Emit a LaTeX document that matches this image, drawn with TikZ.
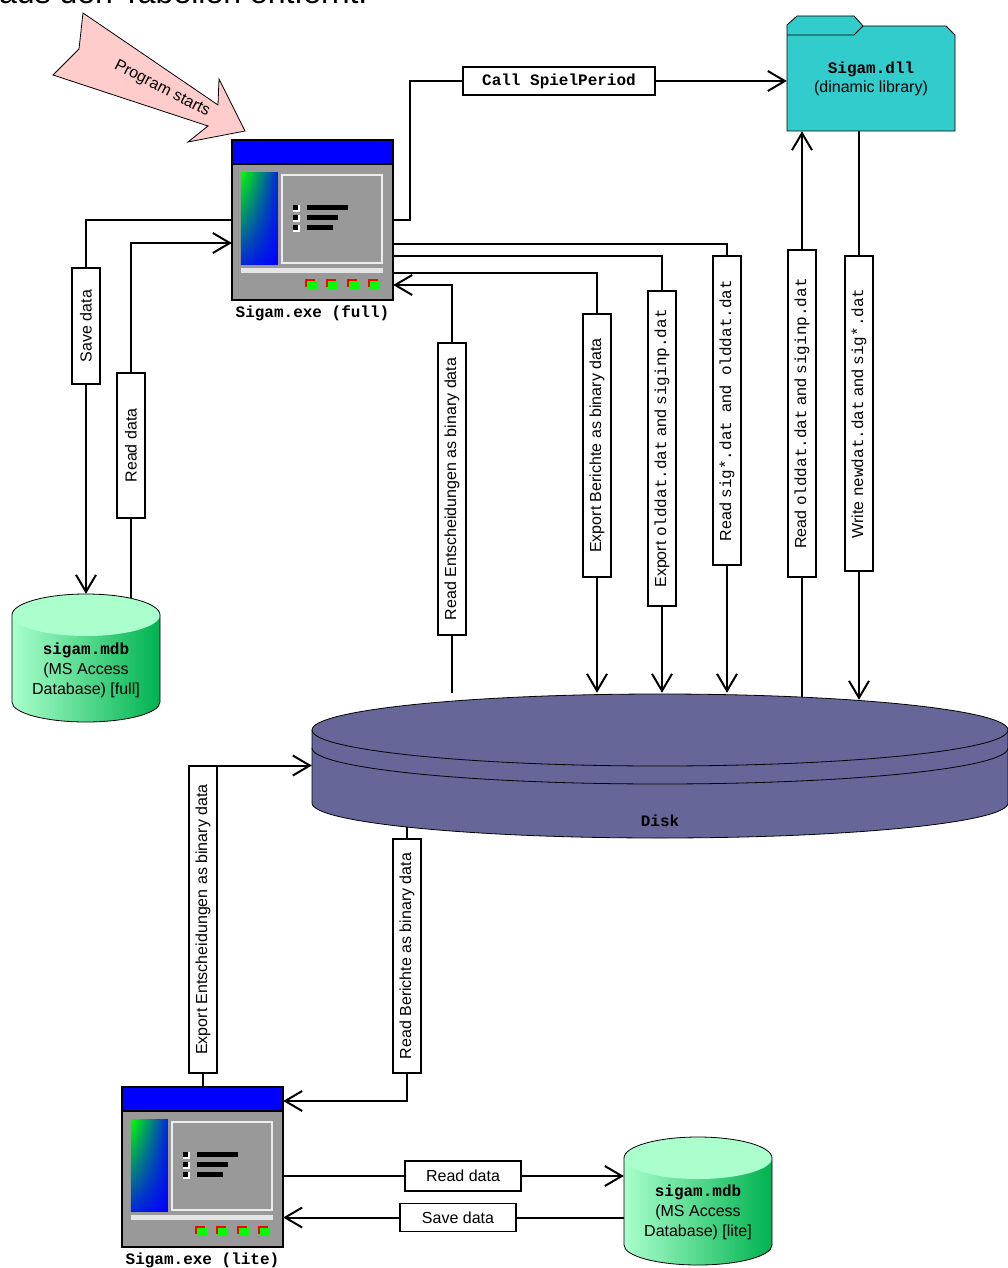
\documentclass[tikz,border=0pt]{standalone}
\usepackage{fontspec}
\setmainfont{Liberation Sans}
\setmonofont{Liberation Mono}
\usetikzlibrary{arrows.meta,positioning,shadings}
\definecolor{winblue}{RGB}{0,0,255}
\definecolor{wingray}{RGB}{153,153,153}
\definecolor{dllcyan}{RGB}{51,204,204}
\definecolor{diskblue}{RGB}{102,102,153}
\definecolor{mintlight}{RGB}{170,255,204}
\definecolor{mintdark}{RGB}{0,178,80}
\definecolor{startpink}{RGB}{255,204,204}
\tikzset{
    txt/.style={font=\fontsize{16}{19}\selectfont},
    monob/.style={font=\fontsize{16}{19}\selectfont\ttfamily\bfseries},
    lblbox/.style={txt, draw, fill=white, line width=1.2pt, inner sep=0pt, minimum height=28pt},
    vlbl/.style={lblbox, rotate=90},
    conn/.style={line width=2pt},
    conna/.style={conn, -{Straight Barb[length=17pt,width=20pt]}},
    winarea/.style={minimum width=161pt, minimum height=160pt, inner sep=0pt},
    dbarea/.style={minimum width=148pt, minimum height=128pt, inner sep=0pt},
    sigamwin/.pic={
        \draw[line width=2pt, fill=wingray] (0,0) rectangle (161,160);
        \draw[line width=2pt, fill=winblue] (0,0) rectangle (161,24);
        \shade[upper left=green, upper right=blue!85!green, lower left=blue!85!green, lower right=blue] (9,33) rectangle (46,125);
        \draw[line width=1.5pt, draw=white!85!gray] (50,35) rectangle (150,123);
        \foreach \y/\l in {68/41,78/31,88/26} {
            \fill[white] (61,\y-3) rectangle (68,\y+4);
            \fill[black] (61,\y-3) rectangle (66,\y+2);
            \fill[black] (75,\y-2.5) rectangle (75+\l,\y+2.5);
        }
        \fill[white!80!gray] (9,128) rectangle (151,133);
        \foreach \x in {73,94,115,136} {
            \fill[red] (\x,139) rectangle (\x+10,147);
            \fill[green] (\x+2,141) rectangle (\x+12,149);
        }
    },
    dbcyl/.pic={
        \shade[left color=mintlight, right color=mintdark] (-74,-43) -- (-74,44) arc[start angle=180, end angle=360, x radius=74pt, y radius=20pt] -- (74,-43) arc[start angle=0, end angle=180, x radius=74pt, y radius=21pt] -- cycle;
        \fill[mintlight] (0,-43) ellipse [x radius=74pt, y radius=21pt];
        \draw[line width=0.8pt] (-74,-43) -- (-74,44) arc[start angle=180, end angle=360, x radius=74pt, y radius=20pt] -- (74,-43) arc[start angle=0, end angle=180, x radius=74pt, y radius=21pt] -- cycle;
    }
}
\begin{document}
\begin{tikzpicture}[x=1pt,y=-1pt]
\useasboundingbox (0,0) rectangle (1007,1268);
% what is left of the text above
\node[anchor=base west, inner sep=0pt, font=\fontsize{32}{38}\selectfont] (headtxt) at (-1,4) {aus den Tabellen entfernt.};

% start arrow
\draw[fill=startpink, line width=0.8pt] (83,13) -- (79,49) -- (53,75) -- (208,126) -- (188,142) -- (245,131) -- (219,79) -- (218,105) -- cycle;
\node[txt, rotate=-27] (startlbl) at (162,89) {Program starts};

% the two programs
\node[winarea] (fullexe) at (312.5,220) {};
\pic at (fullexe.north west) {sigamwin};
\node[monob, below=2pt of fullexe] (fulllbl) {Sigam.exe (full)};
\node[winarea] (liteexe) at (202.5,1167) {};
\pic at (liteexe.north west) {sigamwin};
\node[monob, below=2pt of liteexe] (litelbl) {Sigam.exe (lite)};

% library
\draw[fill=dllcyan, line width=0.8pt] (787,25) -- (797,16) -- (854,16) -- (863,26) -- (946,26) -- (955,35) -- (955,131) -- (787,131) -- cycle;
\draw[line width=0.8pt] (787,35) -- (854,35) -- (863,26);
\node[txt, align=center, minimum width=168pt, minimum height=105pt] (dll) at (871,78.5) {{\ttfamily\bfseries Sigam.dll}\\(dinamic library)};

% databases
\node[dbarea] (mdbfull) at (86,658) {};
\pic at (mdbfull) {dbcyl};
\node[font=\fontsize{16}{20}\selectfont, align=center] (mdbfulltxt) at (86,670) {{\ttfamily\bfseries sigam.mdb}\\(MS Access\\Database) [full]};
\node[dbarea] (mdblite) at (698,1201) {};
\pic at (mdblite) {dbcyl};
\node[font=\fontsize{16}{20}\selectfont, align=center] (mdblitetxt) at (698,1212) {{\ttfamily\bfseries sigam.mdb}\\(MS Access\\Database) [lite]};

% disk
\draw[fill=diskblue, line width=0.8pt] (312,730) -- (312,803) arc[start angle=180, end angle=360, x radius=348pt, y radius=35pt] -- (1008,730) arc[start angle=0, end angle=180, x radius=348pt, y radius=36pt] -- cycle;
\draw[line width=0.8pt] (312,730) arc[start angle=180, end angle=360, x radius=348pt, y radius=36pt];
\draw[line width=0.8pt] (312,748) arc[start angle=180, end angle=360, x radius=348pt, y radius=36pt];
\node[minimum width=696pt, minimum height=145pt, inner sep=0pt] (disk) at (660,765.5) {};
\node[monob] (disklbl) at (660,821) {Disk};

% labels
\node[lblbox, monob, minimum width=192pt] (callbox) at (559,81) {Call SpielPeriod};
\node[vlbl, minimum width=116pt] (savebox) at (86,326) {Save data};
\node[vlbl, minimum width=145pt] (readbox) at (131,445.5) {Read data};
\node[vlbl, minimum width=292pt] (rebox) at (452,489) {Read Entscheidungen as binary data};
\node[vlbl, minimum width=263pt] (ebbox) at (597,445.5) {Export Berichte as binary data};
\node[vlbl, minimum width=315pt] (eobox) at (662,448.5) {Export \texttt{olddat.dat} and \texttt{siginp.dat}};
\node[vlbl, minimum width=309pt] (rsbox) at (727,410.5) {Read \texttt{sig*.dat }and\texttt{ olddat.dat}};
\node[vlbl, minimum width=327pt] (rdbox) at (802,413.5) {Read \texttt{olddat.dat} and \texttt{siginp.dat}};
\node[vlbl, minimum width=315pt] (wrbox) at (859,413.5) {Write \texttt{newdat.dat} and \texttt{sig*.dat}};
\node[vlbl, minimum width=307pt] (expentbox) at (203,919.5) {Export Entscheidungen as binary data};
\node[vlbl, minimum width=234pt] (rbbox) at (407,956) {Read Berichte as binary data};
\node[lblbox, minimum width=116pt, minimum height=30pt] (readlbox) at (463,1176) {Read data};
\node[lblbox, minimum width=116pt] (savelbox) at (458,1217.5) {Save data};

% connectors, full version
\draw[conn] (fullexe.west) -| (savebox.east);
\draw[conna] (savebox.west) -- (savebox.west |- mdbfull.north);
\draw[conn] ([yshift=-4pt]mdbfull.north -| readbox) -- (readbox.west);
\draw[conna] (readbox.east) |- ([yshift=-23pt]fullexe.west);
\draw[conn] (fullexe.east) -- ++(17,0) |- (callbox.west);
\draw[conna] (callbox.east) -- (dll.west |- callbox);
\draw[conn] ([yshift=-24pt]fullexe.east) -| (rsbox.east);
\draw[conna] (rsbox.west) -- (rsbox.west |- disk.north);
\draw[conn] ([yshift=-36pt]fullexe.east) -| (eobox.east);
\draw[conna] (eobox.west) -- (eobox.west |- disk.north);
\draw[conn] ([yshift=-53pt]fullexe.east) -| (ebbox.east);
\draw[conna] (ebbox.west) -- (ebbox.west |- disk.north);
\draw[conn] (rebox.west |- disk.north) -- (rebox.west);
\draw[conna] (rebox.east) |- ([yshift=-65pt]fullexe.east);
\draw[conn] ([yshift=-4pt]disk.north -| rdbox) -- (rdbox.west);
\draw[conna] (rdbox.east) -- (rdbox.east |- dll.south);
\draw[conn] (dll.south -| wrbox) -- (wrbox.east);
\draw[conna] (wrbox.west) -- ([yshift=-7pt]disk.north -| wrbox);

% connectors, lite version
\draw[conn] (liteexe.north -| expentbox) -- (expentbox.west);
\draw[conna] (expentbox.east) |- (disk.west);
\draw[conn] ([yshift=11pt]disk.south -| rbbox) -- (rbbox.east);
\draw[conna] (rbbox.west) |- ([yshift=66pt]liteexe.east);
\draw[conn] (liteexe.east |- readlbox) -- (readlbox.west);
\draw[conna] (readlbox.east) -- (mdblite.west |- readlbox);
\draw[conn] (mdblite.west |- savelbox) -- (savelbox.east);
\draw[conna] (savelbox.west) -- (liteexe.east |- savelbox);
\end{tikzpicture}
\end{document}
